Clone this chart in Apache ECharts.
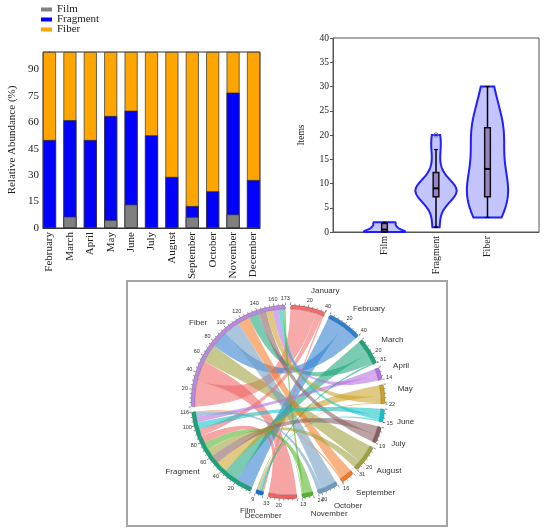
<!DOCTYPE html>
<html>
<head>
<meta charset="utf-8">
<script src="https://cdn.jsdelivr.net/npm/echarts@6/dist/echarts.min.js"></script>
<style>
  html, body { margin: 0; padding: 0; background: #fff; }
  #main { width: 550px; height: 531px; }
</style>
</head>
<body>
<div id="main"></div>
<script>
var months = ['January', 'February', 'March', 'April', 'May', 'June', 'July',
  'August', 'September', 'October', 'November', 'December'];
var types = ['Film', 'Fragment', 'Fiber'];
var filmCount = [2, 0, 2, 0, 1, 2, 0, 0, 1, 0, 1, 0];
var fragmentCount = [8, 20, 17, 7, 13, 8, 10, 9, 1, 5, 9, 9];
var fiberCount = [30, 20, 12, 7, 8, 5, 9, 22, 14, 19, 3, 24];
// the bar chart leaves January out
var barMonths = months.slice(1);

var monthColors = ['#f26d6d', '#2f7fd0', '#1ba37b', '#b66fe0', '#c9a227', '#12c3ca',
  '#8c5f60', '#9ea13a', '#f57a28', '#6f9cc2', '#55b52a', '#f06262'];
var typeColors = ['#1a6fcf', '#1ba37b', '#b98ad9'];
var serif = 'Liberation Serif';
var sans = 'Liberation Sans';

var typeCounts = [filmCount, fragmentCount, fiberCount];
var monthTotal = months.map(function (m, i) {
  return filmCount[i] + fragmentCount[i] + fiberCount[i];
});
function sum(a) { return a.reduce(function (s, v) { return s + v; }, 0); }

// ---------- bar chart (relative abundance, stacked) ----------
// stacked by hand: each layer is drawn from 0 up to its cumulative share
var barColors = ['#808080', '#0000ff', '#ffa500'];
var barSeries = types.map(function (t, j) {
  return {
    name: t,
    type: 'bar',
    xAxisIndex: 0,
    yAxisIndex: 0,
    barWidth: 13,
    barGap: '-100%',
    z: 5 - j,
    itemStyle: { color: barColors[j], borderColor: '#333', borderWidth: 0.7 },
    data: barMonths.map(function (m, k) {
      var cum = 0;
      for (var q = 0; q <= j; q++) cum += typeCounts[q][k + 1];
      return [k, cum / monthTotal[k + 1] * 100];
    })
  };
});

// ---------- violin stats ----------
function quant(sorted, p) {
  // (n+1)p rule
  var n = sorted.length, pos = (n + 1) * p;
  if (pos <= 1) return sorted[0];
  if (pos >= n) return sorted[n - 1];
  var lo = Math.floor(pos);
  return sorted[lo - 1] + (pos - lo) * (sorted[lo] - sorted[lo - 1]);
}
function kde(vals, h, y) {
  var s = 0;
  vals.forEach(function (v) { var u = (y - v) / h; s += Math.exp(-0.5 * u * u); });
  return s;
}
var stats = typeCounts.map(function (vals) {
  var s = vals.slice().sort(function (a, b) { return a - b; });
  var n = s.length, mean = sum(s) / n;
  var sd = Math.sqrt(s.reduce(function (a, v) { return a + (v - mean) * (v - mean); }, 0) / (n - 1));
  var q1 = quant(s, 0.25), q3 = quant(s, 0.75), med = quant(s, 0.5);
  var iqr = q3 - q1;
  var bw = 0.9 * Math.min(sd, iqr / 1.34) * Math.pow(n, -0.2);
  var lowF = q1 - 1.5 * iqr, hiF = q3 + 1.5 * iqr;
  var inside = s.filter(function (v) { return v >= lowF && v <= hiF; });
  var dmax = 0;
  for (var k = 0; k <= 80; k++) {
    var y = s[0] + (s[n - 1] - s[0]) * k / 80;
    dmax = Math.max(dmax, kde(vals, bw, y));
  }
  return {
    min: s[0], max: s[n - 1], q1: q1, q3: q3, med: med, bw: bw, dmax: dmax,
    wLo: inside[0], wHi: inside[inside.length - 1],
    out: s.filter(function (v) { return v < lowF || v > hiF; })
  };
});

function renderViolin(params, api) {
  var i = params.dataIndex;
  var vals = typeCounts[i], st = stats[i];
  var x0 = api.value(0);
  var half = 0.4, boxHalf = 0.055;
  var right = [], left = [];
  var steps = 80;
  for (var k = 0; k <= steps; k++) {
    var y = st.min + (st.max - st.min) * k / steps;
    var w = half * kde(vals, st.bw, y) / st.dmax;
    right.push(api.coord([x0 + w, y]));
    left.push(api.coord([x0 - w, y]));
  }
  var poly = right.concat(left.reverse());
  var b1 = api.coord([x0 - boxHalf, st.q3]);
  var b2 = api.coord([x0 + boxHalf, st.q1]);
  var lo = api.coord([x0, st.wLo]), hi = api.coord([x0, st.wHi]);
  var my = api.coord([x0, st.med])[1];
  var children = [
    { type: 'polygon', shape: { points: poly },
      style: { fill: 'rgba(70,70,255,0.32)', stroke: '#1f1fff', lineWidth: 2 } },
    { type: 'line', shape: { x1: lo[0], y1: lo[1], x2: hi[0], y2: hi[1] },
      style: { stroke: '#000', lineWidth: 1.5 } },
    { type: 'rect', shape: { x: b1[0], y: b1[1], width: b2[0] - b1[0], height: b2[1] - b1[1] },
      style: { fill: '#9a82c4', stroke: '#111', lineWidth: 1.5 } },
    { type: 'line', shape: { x1: b1[0], y1: my, x2: b2[0], y2: my },
      style: { stroke: '#000', lineWidth: 2 } }
  ];
  [lo, hi].forEach(function (p) {
    children.push({ type: 'line', shape: { x1: p[0] - 2, y1: p[1], x2: p[0] + 2, y2: p[1] },
      style: { stroke: '#000', lineWidth: 1.2 } });
  });
  st.out.forEach(function (v) {
    var p = api.coord([x0, v]);
    children.push({ type: 'circle', shape: { cx: p[0], cy: p[1], r: 2.2 },
      style: { fill: 'none', stroke: '#777', lineWidth: 1 } });
  });
  return { type: 'group', children: children };
}

// ---------- chord ----------
var nodeNames = months.concat(types);
var nodeColors = monthColors.concat(typeColors);
var nodeTotals = monthTotal.concat(typeCounts.map(sum));
var links = [];
months.forEach(function (m, i) {
  typeCounts.forEach(function (arr, j) {
    if (arr[i] > 0) links.push({ source: m, target: types[j], value: arr[i] });
  });
});
links.sort(function (a, b) { return b.value - a.value; });

var chordCenter = [288, 402];
var rIn = 93, rOut = 97;
var padAngle = 3, startAngle = 88.5;

// tick marks around the ring
var ticks = [];
(function () {
  var unit = (360 - padAngle * nodeNames.length) / sum(nodeTotals);
  var cur = 90 - startAngle;
  nodeTotals.forEach(function (tot) {
    for (var v = 0; v <= tot; v += 5) {
      var major = v % 20 === 0;
      ticks.push({ a: cur + v * unit, major: major,
        text: (major && v > 0 && tot - v >= 3) ? String(v) : '' });
    }
    ticks.push({ a: cur + tot * unit, major: true, text: String(tot) });
    cur += tot * unit + padAngle;
  });
})();

function renderTick(params, api) {
  var t = ticks[params.dataIndex];
  var p1 = api.coord([rOut, t.a]);
  var p2 = api.coord([rOut + (t.major ? 2.5 : 1.5), t.a]);
  var pt = api.coord([rOut + 7, t.a]);
  var ch = [{ type: 'line', shape: { x1: p1[0], y1: p1[1], x2: p2[0], y2: p2[1] },
    style: { stroke: '#444', lineWidth: 0.6 } }];
  if (t.text) {
    ch.push({ type: 'text', x: pt[0], y: pt[1],
      style: { text: t.text, fill: '#333', fontSize: 5.5, fontFamily: sans,
        align: 'center', verticalAlign: 'middle' } });
  }
  return { type: 'group', children: ch };
}

var chart = echarts.init(document.getElementById('main'));
var option = {
  animation: false,
  backgroundColor: '#fff',
  legend: {
    data: types, orient: 'vertical', left: 41, top: 4, padding: 0,
    itemWidth: 11, itemHeight: 4, itemGap: -1, icon: 'rect', selectedMode: false,
    itemStyle: { borderWidth: 0 },
    textStyle: { fontFamily: serif, fontSize: 11, color: '#222', lineHeight: 10 }
  },
  grid: [
    { left: 43, top: 52, width: 217, height: 176, show: true, borderColor: '#333', borderWidth: 1 },
    { left: 333, top: 38, width: 206, height: 194, show: true, borderColor: '#555', borderWidth: 1 }
  ],
  xAxis: [{
    gridIndex: 0, type: 'value', min: -0.32, max: 10.32,
    axisLine: { lineStyle: { color: '#333' } },
    axisTick: { show: false },
    splitLine: { show: false },
    axisLabel: {
      customValues: barMonths.map(function (m, k) { return k; }),
      formatter: function (v) { return barMonths[Math.round(v)]; },
      rotate: 90, margin: 4, fontFamily: serif, fontSize: 11, color: '#222'
    }
  }, {
    gridIndex: 1, type: 'value', min: 0, max: 4,
    axisLine: { lineStyle: { color: '#555' } },
    axisTick: { show: false },
    splitLine: { show: false },
    axisLabel: {
      customValues: [1, 2, 3],
      formatter: function (v) { return types[Math.round(v) - 1]; },
      rotate: 90, margin: 4, fontFamily: serif, fontSize: 10, color: '#222'
    }
  }],
  yAxis: [{
    gridIndex: 0, type: 'value', min: 0, max: 100, interval: 15,
    name: 'Relative Abundance (%)', nameLocation: 'middle', nameGap: 25,
    nameTextStyle: { fontFamily: serif, fontSize: 11, color: '#222' },
    axisLine: { show: true, lineStyle: { color: '#333' } },
    axisTick: { show: true, length: 3 },
    splitLine: { show: false },
    axisLabel: { showMaxLabel: false, margin: 4, fontFamily: serif, fontSize: 11, color: '#222' }
  }, {
    gridIndex: 1, type: 'value', min: 0, max: 40, interval: 5,
    name: 'Items', nameLocation: 'middle', nameGap: 27,
    nameTextStyle: { fontFamily: serif, fontSize: 9.5, color: '#222' },
    axisLine: { show: true, lineStyle: { color: '#555' } },
    axisTick: { show: true, length: 3 },
    splitLine: { show: false },
    axisLabel: { margin: 4, fontFamily: serif, fontSize: 9.5, color: '#222' }
  }],
  polar: { center: chordCenter, radius: rOut },
  angleAxis: { type: 'value', min: 0, max: 360, startAngle: 90, clockwise: true, show: false },
  radiusAxis: { type: 'value', min: 0, max: rOut, show: false },
  graphic: [{
    type: 'rect', shape: { x: 127, y: 281, width: 320, height: 245 },
    style: { fill: 'none', stroke: '#a5a5a5', lineWidth: 2 }, silent: true
  }],
  series: barSeries.concat([{
    type: 'custom',
    name: 'violin',
    xAxisIndex: 1,
    yAxisIndex: 1,
    renderItem: renderViolin,
    data: types.map(function (t, i) { return [i + 1, 0]; }),
    z: 3
  }, {
    type: 'chord',
    center: chordCenter,
    radius: [rIn, rOut],
    startAngle: startAngle,
    clockwise: true,
    padAngle: padAngle,
    data: nodeNames.map(function (n, i) {
      return { name: n, itemStyle: { color: nodeColors[i] } };
    }),
    links: links,
    itemStyle: { borderColor: 'rgba(0,0,0,0.35)', borderWidth: 0.5 },
    lineStyle: { color: 'source', opacity: 0.58 },
    label: { show: true, position: 'outside', distance: 13, color: '#333', fontSize: 8, fontFamily: sans },
    z: 2
  }, {
    type: 'custom',
    name: 'ticks',
    coordinateSystem: 'polar',
    polarIndex: 0,
    renderItem: renderTick,
    data: ticks.map(function (t) { return [rOut, t.a]; }),
    z: 4
  }])
};
chart.setOption(option);
</script>
</body>
</html>
